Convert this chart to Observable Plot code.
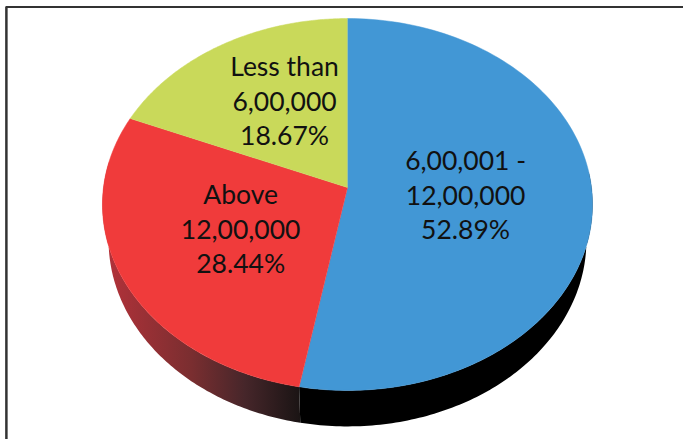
<!DOCTYPE html>
<html>
<head>
<meta charset="utf-8">
<script src="https://cdn.jsdelivr.net/npm/d3@7"></script>
<script src="https://cdn.jsdelivr.net/npm/@observablehq/plot@0.6"></script>
<style>
  html, body { margin: 0; padding: 0; background: #fff; }
  svg { display: block; }
</style>
</head>
<body>
<div id="chart"></div>
<script>
const categories = ["6,00,001 -\n12,00,000", "Above\n12,00,000", "Less than\n6,00,000"];
const shares = [52.89, 28.44, 18.67];
const colors = ["#4297d5", "#f03b3b", "#c9d95a"];
const labelX = [0.484, -0.438, -0.258];
const labelY = [-0.033, -0.217, 0.477];

const perspective = 0.0914;
const depth = 0.195;
const taper = 0.975;
const wallFrom = 85;
const wallTo = 278;

function rim(angle, drop = 0, squeeze = 1) {
  const t = angle * Math.PI / 180;
  const w = 1 + perspective * Math.cos(t);
  return {x: squeeze * Math.sin(t) / w, y: Math.cos(t) / w - drop};
}

let running = 0;
const slices = categories.map((name, i) => {
  const start = running;
  running += shares[i];
  return {name, share: shares[i], start: start * 3.6, end: running * 3.6, color: colors[i]};
});

const arc = (from, to) => d3.range(0, 121).map((k) => from + (to - from) * k / 120);
const topFace = slices.flatMap((s) => [
  {name: s.name, x: 0, y: 0},
  ...arc(s.start, s.end).map((a) => ({name: s.name, ...rim(a)}))
]);
const wall = (s) => {
  const angles = arc(Math.max(s.start, wallFrom), Math.min(s.end, wallTo));
  return [
    ...angles.map((a) => rim(a)),
    ...angles.slice().reverse().map((a) => rim(a, depth, taper))
  ];
};

const labels = slices.map((s, i) => ({
  text: `${s.name}\n${s.share.toFixed(2)}%`,
  x: labelX[i],
  y: labelY[i]
}));

const gradient = () => {
  const defs = d3.create("svg:defs");
  const g = defs.append("linearGradient").attr("id", "redWall")
    .attr("x1", 0).attr("x2", 1).attr("y1", 0).attr("y2", 0);
  [[0, "#b5323a"], [0.45, "#7a2e30"], [0.72, "#46262a"], [1, "#1a1414"]].forEach(([o, c]) =>
    g.append("stop").attr("offset", o).attr("stop-color", c));
  return defs.node();
};

const chart = Plot.plot({
  width: 683,
  height: 439,
  margin: 0,
  style: {background: "#fff", fontFamily: "Lato, sans-serif"},
  x: {domain: [-1, 1], range: [103, 591], axis: null},
  y: {domain: [-1, 1], range: [371.4, 2.6], axis: null},
  color: {domain: categories, range: colors},
  marks: [
    gradient,
    Plot.ruleY([0.979], {x1: -1.398, x2: 1.42, stroke: "#333", strokeWidth: 2}),
    Plot.ruleX([-1.398], {y1: 0.979, y2: -1.37, stroke: "#333", strokeWidth: 2.5}),
    Plot.line(wall(slices[0]), {x: "x", y: "y", fill: "#000", stroke: "none"}),
    Plot.line(wall(slices[1]), {x: "x", y: "y", fill: "url(#redWall)", stroke: "none"}),
    Plot.line(topFace, {x: "x", y: "y", z: "name", fill: "name", stroke: "name", strokeWidth: 0.5}),
    Plot.text(labels, {
      x: "x", y: "y", text: "text",
      fontSize: 26.5, lineHeight: 1.3, fill: "#111", textAnchor: "middle"
    })
  ]
});
document.getElementById("chart").append(chart);
</script>
</body>
</html>
